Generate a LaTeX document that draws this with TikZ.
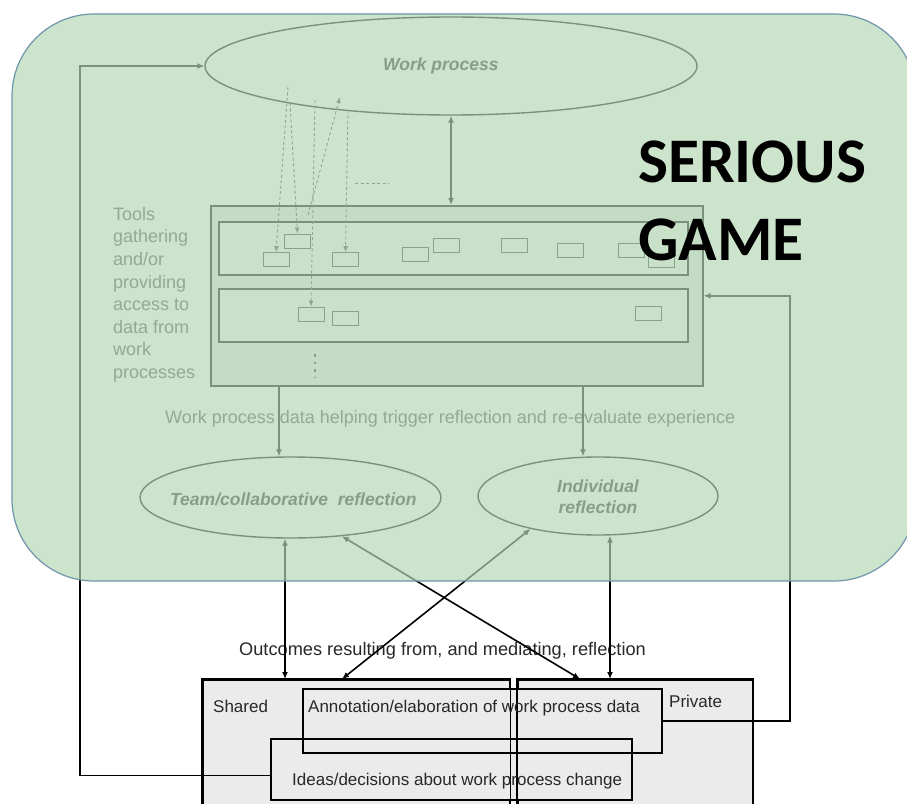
\documentclass[tikz,border=0pt]{standalone}
\usepackage{fontspec}
\setmainfont{Liberation Sans}
\newfontfamily\gamefont{Carlito}
\usetikzlibrary{arrows.meta,shapes.geometric,calc}
\definecolor{ovl}{RGB}{180,215,180}
\definecolor{ovlborder}{RGB}{110,150,170}
\definecolor{txtgray}{RGB}{75,75,75}
\definecolor{txtdark}{RGB}{40,40,40}
\definecolor{boxgray}{RGB}{235,235,235}
\definecolor{toolfill}{RGB}{232,232,232}
\definecolor{rowfill}{RGB}{248,248,248}
\tikzset{
  conn/.style={line width=1.6pt, black},
  arr/.style={conn, -{Latex[length=7pt,width=6pt]}},
  dbl/.style={conn, {Latex[length=7pt,width=6pt]}-{Latex[length=7pt,width=6pt]}},
  dasharr/.style={line width=0.9pt, draw=black!75, dash pattern=on 3pt off 2.5pt, -{Latex[length=6pt,width=5pt]}},
  dashline/.style={line width=0.9pt, draw=black!75, dash pattern=on 3pt off 2.5pt},
  ell/.style={ellipse, draw, line width=1.4pt, inner sep=0pt},
  smallbox/.style={draw=black!80, line width=0.9pt, minimum width=26pt, minimum height=14pt, inner sep=0pt},
  rowbox/.style={draw, line width=1.6pt, fill=rowfill, minimum width=469pt, minimum height=53pt, inner sep=0pt},
  outbox/.style={draw, line width=1.6pt, inner sep=0pt},
  gtxt/.style={inner sep=0pt, text=txtgray, font=\fontsize{18}{22.6}\selectfont},
  btxt/.style={inner sep=0pt, text=txtdark, font=\fontsize{17.5}{21}\selectfont\bfseries\itshape},
  ktxt/.style={inner sep=0pt, text=txtdark, font=\fontsize{17}{20}\selectfont},
  gamestyle/.style={inner sep=0pt, anchor=base west, font=\gamefont\bfseries\fontsize{63.5}{78}\selectfont},
}
\begin{document}
\begin{tikzpicture}[x=1pt,y=-1pt]
\useasboundingbox (0,0) rectangle (907,803);
\fill[white] (0,0) rectangle (907,803);

% ---- bottom boxes (outcomes) ----
\node[outbox, fill=boxgray, minimum width=307pt, minimum height=140pt, anchor=north west] (shared) at (202,679) {};
\node[outbox, fill=boxgray, minimum width=235pt, minimum height=140pt, anchor=north west] (private) at (517,679) {};
\fill[boxgray] (302,688) rectangle (661,752);
\fill[boxgray] (270,738) rectangle (631,799);
\draw[line width=1.6pt] (shared.north west) rectangle (shared.south east);
\draw[line width=1.6pt] (private.north west) rectangle (private.south east);
\node[outbox, minimum width=359pt, minimum height=64pt, anchor=north west] (annot) at (302,688) {};
\node[outbox, minimum width=361pt, minimum height=61pt, anchor=north west] (ideas) at (270,738) {};
\node[ktxt, anchor=base west] (sharedt) at (213,712) {Shared};
\node[ktxt, anchor=base west] (privatet) at (669,707) {Private};
\node[ktxt, anchor=base west] (annott) at (308,712) {Annotation/elaboration of work process data};
\node[ktxt, anchor=base west] (ideast) at (292,785) {Ideas/decisions about work process change};
\node[inner sep=0pt, text=txtdark, font=\fontsize{18.2}{22}\selectfont, anchor=base west] (outt) at (239,655) {Outcomes resulting from, and mediating, reflection};

% ---- tools box ----
\node[outbox, fill=toolfill, minimum width=492pt, minimum height=180pt, anchor=north west] (tools) at (210,205) {};
\node[rowbox, anchor=north west] (row1) at (218,221) {};
\node[rowbox, anchor=north west] (row2) at (218,288) {};
\node[smallbox] (r1) at (276,259.5) {};
\node[smallbox] (r2) at (297.5,241) {};
\node[smallbox] (r3) at (345.5,259.5) {};
\node[smallbox] (r4) at (415,254) {};
\node[smallbox] (r5) at (446,245) {};
\node[smallbox] (r6) at (514,245) {};
\node[smallbox] (r7) at (570.5,250) {};
\node[smallbox] (r8) at (631,250) {};
\node[smallbox] (r9) at (661,260) {};
\node[smallbox] (s1) at (311,314) {};
\node[smallbox] (s2) at (345.5,318) {};
\node[smallbox] (s3) at (648.5,313.5) {};
\coordinate (vd1) at (315,354);
\coordinate (vd2) at (315,378);
\draw[line width=1.2pt, draw=black!85, dash pattern=on 2.5pt off 5pt] (vd1) -- (vd2);

\node[gtxt, align=left, anchor=north west] (toolst) at (113,207) {Tools\\gathering\\and/or\\providing\\access to\\data from\\work\\processes};
\node[gtxt, anchor=base west] (trigt) at (165,423) {Work process data helping trigger reflection and re-evaluate experience};

% ---- ellipses ----
\node[ell, minimum width=492pt, minimum height=98pt] (wp) at (451,66) {};
\node[btxt, anchor=base west] (wpt) at (383,70) {Work process};
\node[ell, minimum width=301pt, minimum height=81pt] (team) at (290.5,497.5) {};
\node[btxt, anchor=base west] (teamt) at (170,505) {Team/collaborative\ \ reflection};
\node[ell, minimum width=240pt, minimum height=78pt] (ind) at (598,496) {};
\node[btxt, align=center, anchor=center] (indt) at (598,497) {Individual\\reflection};

% ---- dashed arrows between work process and tools ----
\coordinate (d1s) at (288,87);
\coordinate (d2s) at (290,103);
\coordinate (d3s) at (315,100);
\coordinate (d4s) at (308,215);
\coordinate (d4e) at (340,97);
\coordinate (d5s) at (348,110);
\coordinate (hd1) at (355,183);
\coordinate (hd2) at (389,183);
\draw[dasharr] (d1s) -- (r1.north);
\draw[dasharr] (d2s) -- (r2.north);
\draw[dasharr] (d3s) -- (s1.north);
\draw[dasharr] (d4s) -- (d4e);
\draw[dasharr] (d5s) -- (r3.north);
\draw[dashline] (hd1) -- (hd2);

% ---- connectors ----
\coordinate (lx) at (80,0);
\coordinate (c279) at (279,0);
\coordinate (c583) at (583,0);
\coordinate (c285) at (285,0);
\coordinate (c610) at (610,0);
\coordinate (c790) at (790,0);
\draw[arr] ($(ideas.west)+(0,6)$) -- ($(ideas.west -| lx)+(0,6)$) |- (wp.west);
\draw[dbl] (wp.south) -- (wp.south |- tools.north);
\draw[arr] (tools.south -| c279) -- (team.north -| c279);
\draw[arr] (tools.south -| c583) -- (ind.north -| c583);
\draw[dbl] (team.south -| c285) -- (shared.north -| c285);
\draw[dbl] (team.-37) -- ($(private.north west)+(63,0)$);
\draw[dbl] ($(shared.north west)+(140,0)$) -- (ind.206);
\draw[dbl] (ind.south -| c610) -- (private.north -| c610);
\draw[arr] (annot.east) -- (annot.east -| c790) |- (tools.east);

% ---- serious game overlay ----
\node[draw=ovlborder, line width=1.2pt, fill=ovl, fill opacity=0.68, rounded corners=82pt, minimum width=904pt, minimum height=567pt, inner sep=0pt] (game) at (464,297.5) {};
\node[gamestyle] (sg1) at (638,182) {SERIOUS};
\node[gamestyle] (sg2) at (638,260) {GAME};
\end{tikzpicture}
\end{document}
